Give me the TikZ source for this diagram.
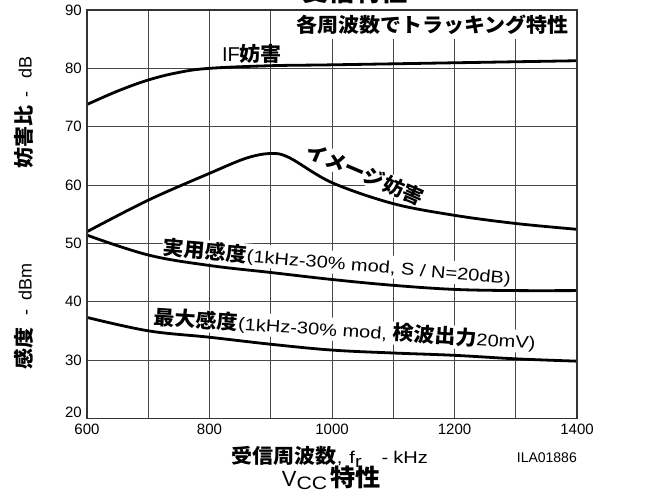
\documentclass[tikz,border=0pt]{standalone}
\usepackage{fontspec}
\setmainfont{Liberation Sans}
\newfontfamily\lat{Liberation Sans}[FakeStretch=1.18]
\newfontfamily\jp{Noto Sans CJK JP}[FakeStretch=1.05]
\begin{document}
\begin{tikzpicture}[x=1pt,y=1pt,
  gridline/.style={draw=black!72, line width=0.9pt},
  frameline/.style={draw=black!80, line width=1.6pt},
  curve/.style={draw=black, line width=2.8pt},
  ticklbl/.style={font=\fontsize{15}{18}\selectfont, inner sep=0pt},
  lbl/.style={fill=white, inner sep=1pt},
  jpl/.style={font=\jp\bfseries\fontsize{20}{24}\selectfont}
]
\useasboundingbox (0,0) rectangle (652,494);

% data frame: f in kHz, level in dB
\begin{scope}[x=0.6125pt, y=5.8333pt, shift={(-280.5pt,-41pt)}]
  \foreach \f in {700,800,...,1300} \draw[gridline] (\f,20) -- (\f,90);
  \foreach \d in {30,40,...,80} \draw[gridline] (600,\d) -- (1400,\d);
  % tick labels
  \foreach \d in {30,40,...,80}
    \node[ticklbl, anchor=east] (yt\d) at ([xshift=-5pt]600,\d) {\d};
  \node[ticklbl, anchor=east] (yt90) at ([xshift=-5pt,yshift=-0.8pt]600,90) {90};
  \node[ticklbl, anchor=east] (yt20) at ([xshift=-5pt,yshift=5.7pt]600,20) {20};
  \foreach \f in {600,800,...,1400}
    \node[ticklbl] (xt\f) at ([yshift=-11.5pt]\f,20) {\f};
\end{scope}

% title (mostly cut off at top edge)
\node[jpl, font=\jp\bfseries\fontsize{25}{28}\selectfont, anchor=base, inner sep=0pt] (title) at (355,492.8) {受信特性};

% top box label
\node[jpl, fill=white, inner xsep=3pt, inner ysep=4pt] (track) at (432.5,469) {各周波数でトラッキング特性};

% curve labels
\node[inner sep=0pt] (iflbl) at (252,440.5) {{\fontsize{20}{24}\selectfont IF}{\jp\bfseries\fontsize{20}{24}\selectfont 妨害}};
\node[jpl, lbl, rotate=-23] (imglbl) at (365,320) {イメージ妨害};
\node[lbl, rotate=-4.8] (praclbl) at (337,231.5)
  {{\jp\bfseries\fontsize{20}{24}\selectfont 実用感度}{\lat\fontsize{17}{20}\selectfont (1kHz-30\% mod, S / N=20dB)}};
\node[lbl, rotate=-3.7] (maxlbl) at (345,164)
  {{\jp\bfseries\fontsize{20}{24}\selectfont 最大感度}{\lat\fontsize{17}{20}\selectfont (1kHz-30\% mod, }{\jp\bfseries\fontsize{20}{24}\selectfont 検波出力}{\lat\fontsize{17}{20}\selectfont 20mV)}};

% curves
\begin{scope}[x=0.6125pt, y=5.8333pt, shift={(-280.5pt,-41pt)}]
  \draw[curve] plot[smooth, tension=0.6] coordinates
    {(600,73.8) (650,76.1) (700,78.0) (750,79.3) (800,80.0) (900,80.45) (1000,80.6) (1200,80.95) (1400,81.3)};
  \draw[curve] plot[smooth, tension=0.55] coordinates
    {(600,52.0) (700,57.4) (800,62.0) (860,64.6) (900,65.4) (930,64.7) (1000,60.4) (1100,56.8) (1200,54.8) (1300,53.4) (1400,52.4)};
  \draw[curve] plot[smooth, tension=0.6] coordinates
    {(600,51.4) (700,48.0) (800,46.2) (900,45.0) (1000,43.8) (1100,42.8) (1200,42.1) (1300,41.9) (1400,41.9)};
  \draw[curve] plot[smooth, tension=0.6] coordinates
    {(600,37.3) (700,35.0) (800,33.9) (900,32.7) (1000,31.7) (1100,31.2) (1200,30.8) (1300,30.2) (1400,29.8)};
  \draw[frameline] (600,20) rectangle (1400,90);
\end{scope}

% axis labels
\node[rotate=90, inner sep=0pt] (ylab1) at (24,381.5)
  {{\jp\bfseries\fontsize{20}{24}\selectfont 妨害比}\hspace{8pt}{\fontsize{18}{21}\selectfont -\hspace{14pt}dB}};
\node[rotate=90, inner sep=0pt] (ylab2) at (24,177.5)
  {{\jp\bfseries\fontsize{20}{24}\selectfont 感度}\hspace{12pt}{\fontsize{18}{21}\selectfont -\hspace{10pt}dBm}};
\node[inner sep=0pt, anchor=west] (xlab) at (231.7,37.5)
  {{\jp\bfseries\fontsize{20}{24}\selectfont 受信周波数}{\lat\fontsize{17}{20}\selectfont ,\hspace{7pt}f\raisebox{-4pt}{r}\hspace{20pt}-\hspace{5pt}kHz}};
\node[inner sep=0pt, anchor=east, font=\fontsize{14}{17}\selectfont] (code) at (577,36.3) {ILA01886};
\node[inner sep=0pt, anchor=base west] (vcc) at (281.7,7.3)
  {{\fontsize{22}{26}\selectfont V}{\lat\fontsize{18}{21}\selectfont\raisebox{-3pt}{CC}}\hspace{3pt}{\jp\bfseries\fontsize{24}{28}\selectfont 特性}};
\end{tikzpicture}
\end{document}
